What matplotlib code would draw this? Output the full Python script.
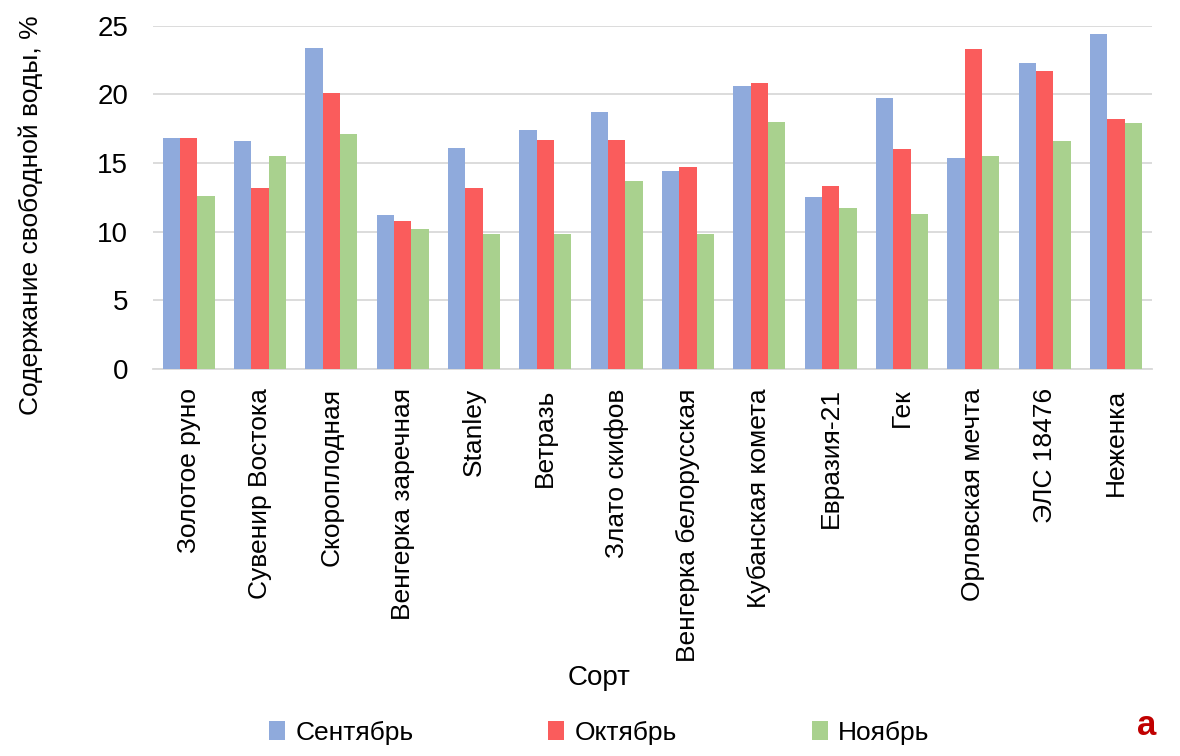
import matplotlib
matplotlib.use("Agg")
import matplotlib.pyplot as plt
import numpy as np

varieties = ["Золотое руно", "Сувенир Востока", "Скороплодная", "Венгерка заречная",
             "Stanley", "Ветразь", "Злато скифов", "Венгерка белорусская",
             "Кубанская комета", "Евразия-21", "Гек", "Орловская мечта",
             "ЭЛС 18476", "Неженка"]
september = [16.8, 16.6, 23.4, 11.2, 16.1, 17.4, 18.7, 14.4, 20.6, 12.5, 19.7, 15.4, 22.3, 24.4]
october = [16.8, 13.2, 20.1, 10.8, 13.2, 16.7, 16.7, 14.7, 20.8, 13.3, 16.0, 23.3, 21.7, 18.2]
november = [12.6, 15.5, 17.1, 10.2, 9.8, 9.8, 13.7, 9.8, 18.0, 11.7, 11.3, 15.5, 16.6, 17.9]
months = ["Сентябрь", "Октябрь", "Ноябрь"]

colors = ["#8FAADC", "#FA5C5C", "#A9D18E"]

plt.rcParams["font.family"] = ["Liberation Sans Narrow", "Liberation Sans", "DejaVu Sans"]

fig = plt.figure(figsize=(11.8, 7.56), dpi=100)
ax = fig.add_axes([0.1297, 0.512, 0.8463, 0.454])

x = np.arange(len(varieties))
w = 0.243
for i, (vals, lab) in enumerate(zip([september, october, november], months)):
    ax.bar(x + (i - 1) * w, vals, width=w, color=colors[i], label=lab, zorder=3)

ax.set_xlim(-0.5, len(varieties) - 0.5)
ax.set_ylim(0, 25)
ax.set_yticks([0, 5, 10, 15, 20, 25])
ax.yaxis.grid(True, color="#D9D9D9", linewidth=1.3, zorder=0)
ax.set_axisbelow(True)
for s in ["top", "right", "left"]:
    ax.spines[s].set_visible(False)
ax.spines["bottom"].set_color("#D9D9D9")
ax.spines["bottom"].set_linewidth(1.3)

ax.set_xticks(x)
ax.set_xticklabels(varieties, rotation=90, fontsize=19)
ax.tick_params(axis="x", length=0, pad=14)
ax.tick_params(axis="y", length=0, pad=18, labelsize=20)

fig.text(0.508, 0.103, "Сорт", ha="center", va="center", fontsize=20)
fig.text(0.026, 0.716, "Содержание свободной воды, %", rotation=90,
         ha="center", va="center", fontsize=19)

fig.legend(loc="center", bbox_to_anchor=(0.508, 0.031), ncol=3, frameon=False,
           fontsize=19, handlelength=0.6, handleheight=0.7, handletextpad=0.4,
           columnspacing=5.1)

fig.text(0.972, 0.041, "a", ha="center", va="center", fontsize=25,
         fontweight="bold", color="#C00000")

fig.savefig("out.png", dpi=100)
